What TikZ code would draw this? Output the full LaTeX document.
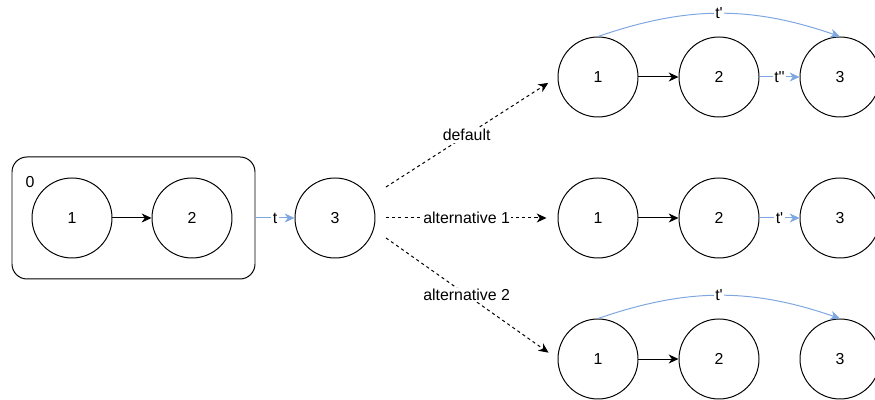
\documentclass[tikz,border=0pt]{standalone}
\usepackage{fontspec}
\setmainfont{Liberation Sans}
\usetikzlibrary{arrows.meta}

\definecolor{edgeblue}{RGB}{126,166,224}
\newcommand{\tp}{t\textquotesingle}

\begin{document}
\begin{tikzpicture}[
    font=\fontsize{11.3}{13}\selectfont,
    state/.style={draw, circle, minimum size=2cm, inner sep=0pt, line width=0.7pt},
    tip/.style={-{Stealth[length=7pt, width=6.4pt, inset=2.2pt]}, line width=0.7pt},
    trans/.style={tip, draw=edgeblue},
    choice/.style={tip, dash pattern=on 2.2pt off 2.2pt, shorten >=0.275cm},
    lbl/.style={fill=white, inner sep=1pt}
  ]
  \useasboundingbox (0,0) rectangle (21.875,10);

  % run 0: states 1 and 2 grouped, then t into 3
  \node[draw, rounded corners=0.375cm, minimum width=6.075cm, minimum height=3.05cm, line width=0.7pt] (grp) at (3.3375,4.55) {};
  \node (grplbl) at (0.75,5.45) {0};
  \node[state] (s1) at (1.8,4.55) {1};
  \node[state] (s2) at (4.8,4.55) {2};
  \node[state] (s3) at (8.375,4.55) {3};
  \draw[tip] (s1) -- (s2);
  \draw[trans] (grp) -- (s3) node[lbl, midway] {t};

  \coordinate (fork1) at (9.65,5.325);
  \coordinate (fork2) at (9.65,4.55);
  \coordinate (fork3) at (9.65,4.05);

  % default
  \node[state] (def1) at (14.95,8.075) {1};
  \node[state] (def2) at (17.975,8.075) {2};
  \node[state] (def3) at (21,8.075) {3};
  \draw[tip] (def1) -- (def2);
  \draw[trans] (def2) -- (def3) node[lbl, midway] {\tp\textquotesingle};
  \draw[trans] (def1.north) to[bend left=19] node[lbl, midway] {\tp} (def3.north);
  \draw[choice] (fork1) -- (def1.west) node[lbl, pos=0.47] {default};

  % alternative 1
  \node[state] (alta1) at (14.95,4.55) {1};
  \node[state] (alta2) at (17.975,4.55) {2};
  \node[state] (alta3) at (21,4.55) {3};
  \draw[tip] (alta1) -- (alta2);
  \draw[trans] (alta2) -- (alta3) node[lbl, midway] {\tp};
  \draw[choice] (fork2) -- (alta1.west) node[lbl, pos=0.47] {alternative 1};

  % alternative 2
  \node[state] (altb1) at (14.95,1.025) {1};
  \node[state] (altb2) at (17.975,1.025) {2};
  \node[state] (altb3) at (21,1.025) {3};
  \draw[tip] (altb1) -- (altb2);
  \draw[trans] (altb1.north) to[bend left=19] node[lbl, midway] {\tp} (altb3.north);
  \draw[choice] (fork3) -- (altb1.west) node[lbl, pos=0.47] {alternative 2};
\end{tikzpicture}
\end{document}
